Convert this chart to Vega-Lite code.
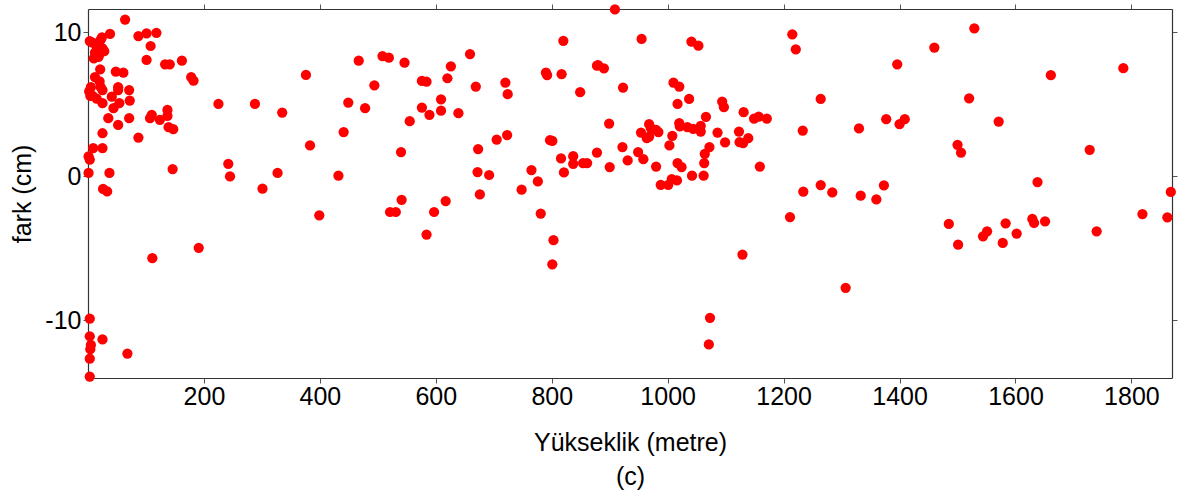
{
  "$schema": "https://vega.github.io/schema/vega-lite/v6.json",
  "width": 1084,
  "height": 369,
  "autosize": {"type": "none"},
  "padding": {"left": 88, "top": 9, "right": 15, "bottom": 122},
  "background": "white",
  "config": {
    "view": {"stroke": null},
    "axis": {
      "grid": false,
      "domainColor": "#333333",
      "domainWidth": 1.2,
      "tickColor": "#555555",
      "tickSize": 5,
      "labelFont": "Liberation Sans, Arial",
      "labelFontSize": 25,
      "labelColor": "#000000",
      "titleFont": "Liberation Sans, Arial",
      "titleFontSize": 25,
      "titleFontWeight": "normal",
      "titleColor": "#000000"
    }
  },
  "data": {"values": [
    {"e":64,"d":10.9},{"e":38,"d":9.9},{"e":24,"d":9.66},{"e":3,"d":9.4},{"e":8,"d":9.3},{"e":15,"d":9.0},{"e":22,"d":9.5},{"e":25,"d":8.9},{"e":12,"d":8.6},{"e":18,"d":8.3},{"e":28,"d":8.7},{"e":10,"d":8.2},{"e":20,"d":8.5},
    {"e":87,"d":9.75},{"e":101,"d":9.94},{"e":118,"d":9.98},{"e":108,"d":9.06},{"e":101,"d":8.09},{"e":133,"d":7.79},{"e":141,"d":7.79},{"e":162,"d":8.04},{"e":178,"d":6.89},{"e":182,"d":6.65},{"e":225,"d":5.04},
    {"e":21,"d":7.44},{"e":48,"d":7.28},{"e":61,"d":7.21},
    {"e":12,"d":6.9},{"e":20,"d":6.6},{"e":22,"d":6.2},{"e":5,"d":6.2},{"e":2,"d":5.9},{"e":8,"d":5.6},{"e":15,"d":5.4},{"e":25,"d":6.0},{"e":4,"d":5.6},
    {"e":52,"d":6.2},{"e":52,"d":6.0},{"e":71,"d":6.0},{"e":41,"d":5.54},{"e":72,"d":5.27},{"e":25,"d":5.09},{"e":54,"d":5.09},{"e":44,"d":4.74},{"e":137,"d":4.62},{"e":110,"d":4.28},{"e":107,"d":4.05},{"e":124,"d":3.93},{"e":137,"d":4.2},{"e":35,"d":4.05},{"e":71,"d":4.05},{"e":52,"d":3.58},{"e":139,"d":3.42},{"e":147,"d":3.28},{"e":25,"d":3.0},{"e":87,"d":2.7},{"e":9,"d":1.97},{"e":25,"d":1.97},{"e":1,"d":1.39},{"e":3,"d":1.16},{"e":1,"d":0.24},{"e":37,"d":0.24},{"e":146,"d":0.51},{"e":26,"d":-0.87},{"e":33,"d":-1.04},{"e":242,"d":0.88},{"e":245,"d":0},
    {"e":301,"d":-0.85},{"e":191,"d":-4.96},{"e":111,"d":-5.68},{"e":3,"d":-9.88},{"e":3,"d":-11.1},{"e":5,"d":-11.7},{"e":4,"d":-12.0},{"e":25,"d":-11.32},{"e":3,"d":-12.66},{"e":68,"d":-12.3},{"e":3,"d":-13.9},
    {"e":288,"d":5.04},{"e":335,"d":4.44},{"e":327,"d":0.24},
    {"e":376,"d":7.05},{"e":383,"d":2.15},{"e":432,"d":0.05},{"e":441,"d":3.08},{"e":449,"d":5.13},{"e":467,"d":8.04},{"e":478,"d":4.74},{"e":494,"d":6.33},{"e":508,"d":8.36},{"e":519,"d":8.25},{"e":546,"d":7.9},{"e":540,"d":1.69},{"e":555,"d":3.84},{"e":576,"d":6.63},{"e":584,"d":6.58},{"e":576,"d":4.78},{"e":589,"d":4.28},{"e":609,"d":5.36},{"e":609,"d":4.57},{"e":620,"d":6.82},{"e":626,"d":7.65},{"e":639,"d":4.39},{"e":659,"d":8.5},{"e":669,"d":6.24},{"e":673,"d":1.9},{"e":672,"d":0.3},{"e":692,"d":0.1},{"e":676,"d":-1.25},{"e":705,"d":2.56},{"e":720,"d":6.51},{"e":724,"d":5.71},{"e":723,"d":2.87},{"e":748,"d":-0.92},{"e":765,"d":0.44},{"e":776,"d":-0.35},{"e":790,"d":7.21},{"e":792,"d":7.03},{"e":797,"d":2.52},{"e":801,"d":2.47},{"e":817,"d":7.1},{"e":820,"d":9.42},{"e":816,"d":1.25},{"e":837,"d":1.41},{"e":837,"d":0.88},{"e":821,"d":0.28},{"e":849,"d":5.85},{"e":854,"d":0.93},{"e":861,"d":0.93},{"e":878,"d":7.69},{"e":878,"d":1.66},
    {"e":399,"d":-2.7},{"e":521,"d":-2.47},{"e":531,"d":-2.47},{"e":541,"d":-1.62},{"e":584,"d":-4.04},{"e":597,"d":-2.47},{"e":617,"d":-1.71},{"e":781,"d":-2.58},{"e":803,"d":-4.43},{"e":801,"d":-6.1},
    {"e":909,"d":11.6},{"e":955,"d":9.55},{"e":1041,"d":9.36},{"e":1053,"d":9.08},{"e":880,"d":7.74},{"e":890,"d":7.51},{"e":923,"d":6.17},{"e":1010,"d":6.51},{"e":1020,"d":6.24},{"e":1017,"d":5.04},{"e":1037,"d":5.38},{"e":1094,"d":5.2},{"e":1097,"d":4.81},{"e":1131,"d":4.46},{"e":1066,"d":4.14},{"e":1149,"d":4.02},{"e":1157,"d":4.16},{"e":1171,"d":4.02},{"e":1215,"d":9.87},{"e":1221,"d":8.83},{"e":1264,"d":5.38},{"e":1233,"d":3.19},{"e":1330,"d":3.33},{"e":1377,"d":3.98},{"e":1396,"d":7.79},{"e":1400,"d":3.63},{"e":899,"d":3.67},{"e":968,"d":3.63},{"e":971,"d":3.35},{"e":954,"d":3.05},{"e":964,"d":2.66},{"e":968,"d":2.77},{"e":980,"d":3.24},{"e":984,"d":3.08},{"e":1008,"d":2.82},{"e":1003,"d":2.15},{"e":1020,"d":3.7},{"e":1021,"d":3.47},{"e":1034,"d":3.42},{"e":1044,"d":3.3},{"e":1057,"d":3.51},{"e":1057,"d":3.12},{"e":1086,"d":3.05},{"e":1099,"d":2.36},{"e":1123,"d":3.12},{"e":1124,"d":2.38},{"e":1130,"d":2.31},{"e":1139,"d":2.66},{"e":1072,"d":2.04},{"e":1064,"d":1.57},{"e":1063,"d":0.93},{"e":922,"d":2.04},{"e":949,"d":1.69},{"e":958,"d":1.2},{"e":931,"d":1.11},{"e":900,"d":0.65},{"e":980,"d":0.69},{"e":1017,"d":0.93},{"e":1024,"d":0.65},{"e":1159,"d":0.69},{"e":988,"d":-0.58},{"e":1001,"d":-0.58},{"e":1007,"d":-0.18},{"e":1016,"d":-0.28},{"e":1042,"d":0.05},{"e":1062,"d":0.05},{"e":1234,"d":-1.06},{"e":1264,"d":-0.6},{"e":1284,"d":-1.11},{"e":1333,"d":-1.34},{"e":1360,"d":-1.6},{"e":1373,"d":-0.62},
    {"e":1211,"d":-2.82},{"e":1129,"d":-5.43},{"e":1307,"d":-7.74},{"e":1073,"d":-9.82},{"e":1071,"d":-11.67},
    {"e":1529,"d":10.29},{"e":1460,"d":8.95},{"e":1661,"d":7.03},{"e":1786,"d":7.52},{"e":1520,"d":5.43},{"e":1409,"d":3.98},{"e":1571,"d":3.81},{"e":1500,"d":2.2},{"e":1506,"d":1.66},{"e":1728,"d":1.85},{"e":1638,"d":-0.39},{"e":1868,"d":-1.08},
    {"e":1485,"d":-3.3},{"e":1501,"d":-4.74},{"e":1544,"d":-4.16},{"e":1551,"d":-3.81},{"e":1583,"d":-3.26},{"e":1578,"d":-4.62},{"e":1602,"d":-3.97},{"e":1629,"d":-2.95},{"e":1632,"d":-3.23},{"e":1651,"d":-3.12},{"e":1740,"d":-3.81},{"e":1819,"d":-2.61},{"e":1862,"d":-2.84}
  ]},
  "layer": [
    {
      "mark": {"type": "circle", "color": "#ff0000", "opacity": 1, "size": 105},
      "encoding": {
        "x": {"field": "e", "type": "quantitative",
          "scale": {"domain": [0, 1870], "nice": false, "zero": false},
          "axis": {"values": [200,400,600,800,1000,1200,1400,1600,1800], "labelExpr": "datum.value + ''", "title": ["Yükseklik (metre)", "(c)"], "titleLineHeight": 34, "titlePadding": 21, "labelPadding": 1, "labelFlush": false}},
        "y": {"field": "d", "type": "quantitative",
          "scale": {"domain": [-14, 11.63], "nice": false, "zero": false},
          "axis": {"values": [-10, 0, 10], "labelExpr": "datum.value + ''", "title": "fark (cm)", "titlePadding": 9, "labelPadding": 2}}
      }
    },
    {
      "mark": {"type": "circle", "opacity": 0},
      "encoding": {
        "x": {"field": "e", "type": "quantitative",
          "scale": {"domain": [0, 1870], "nice": false, "zero": false},
          "axis": {"orient": "top", "values": [200,400,600,800,1000,1200,1400,1600,1800], "labels": false, "title": null}},
        "y": {"field": "d", "type": "quantitative",
          "scale": {"domain": [-14, 11.63], "nice": false, "zero": false},
          "axis": {"orient": "right", "values": [-10, 0, 10], "labels": false, "title": null}}
      }
    }
  ],
  "resolve": {"axis": {"x": "independent", "y": "independent"}}
}
